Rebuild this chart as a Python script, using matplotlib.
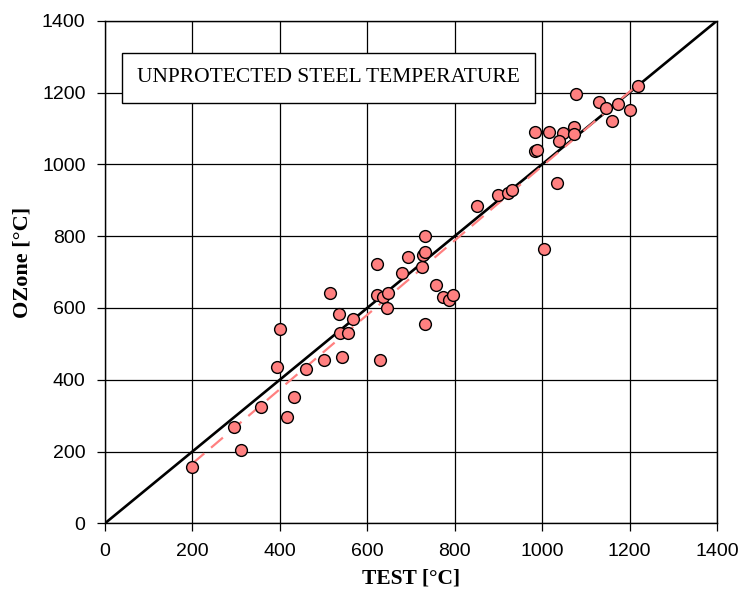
import numpy as np
import matplotlib
matplotlib.use("Agg")
import matplotlib.pyplot as plt

test_c = [200, 294, 310, 357, 394, 401, 417, 432, 459, 502,
          515, 535, 538, 555, 543, 567, 622, 622, 635, 647,
          629, 644, 680, 694, 725, 728, 732, 732, 732, 757,
          774, 786, 795, 852, 900, 923, 930, 984, 1016, 1047,
          1072, 1072, 1038, 984, 989, 1035, 1004, 1077, 1130, 1146,
          1173, 1201, 1159, 1219]
ozone_c = [156, 269, 204, 325, 436, 540, 297, 353, 431, 455,
           642, 582, 529, 530, 464, 568, 721, 636, 631, 641,
           455, 600, 696, 741, 715, 747, 757, 555, 800, 664,
           631, 622, 637, 885, 914, 919, 928, 1091, 1091, 1086,
           1105, 1084, 1064, 1037, 1039, 947, 764, 1195, 1174, 1158,
           1168, 1150, 1121, 1217]

ticks = [0, 200, 400, 600, 800, 1000, 1200, 1400]
box_title = "UNPROTECTED STEEL TEMPERATURE"

fig = plt.figure(figsize=(7.42, 5.95), dpi=100)
ax = fig.add_axes([0.1415, 0.1205, 0.8248, 0.8447])

ax.set_xlim(0, 1400)
ax.set_ylim(0, 1400)
ax.set_xticks(ticks)
ax.set_yticks(ticks)
ax.grid(True, color="black", linewidth=0.9)
ax.set_axisbelow(True)
for s in ax.spines.values():
    s.set_color("black")
    s.set_linewidth(1.0)
ax.tick_params(direction="out", length=6, width=0.9, labelsize=14, pad=8)
for lab in ax.get_xticklabels() + ax.get_yticklabels():
    lab.set_family("Liberation Sans")

# 1:1 line
ax.plot([0, 1400], [0, 1400], color="black", linewidth=1.9, zorder=3)

# linear trend of the points
x = np.array(test_c)
y = np.array(ozone_c)
k, b = np.polyfit(x, y, 1)
xs = np.array([x.min(), x.max()])
ax.plot(xs, k * xs + b, color="#ff8080", linewidth=1.6, linestyle=(0, (7, 4)), zorder=3)

ax.plot(x, y, linestyle="none", marker="o", markersize=8.5,
        markerfacecolor="#ff8080", markeredgecolor="black", markeredgewidth=1.0, zorder=4)

ax.set_xlabel("TEST [°C]", family="Liberation Serif", fontweight="bold", fontsize=15.5, labelpad=6)
ax.set_ylabel("OZone [°C]", family="Liberation Serif", fontweight="bold", fontsize=16)
ax.yaxis.set_label_coords(-0.118, 0.52)

ax.text(0.185, 0.869, box_title, transform=fig.transFigure, family="Liberation Serif",
        fontsize=15.5, va="center", ha="left", zorder=6,
        bbox=dict(boxstyle="square,pad=0.7", facecolor="white", edgecolor="black", linewidth=1.0))

fig.savefig("out.png", dpi=100)
